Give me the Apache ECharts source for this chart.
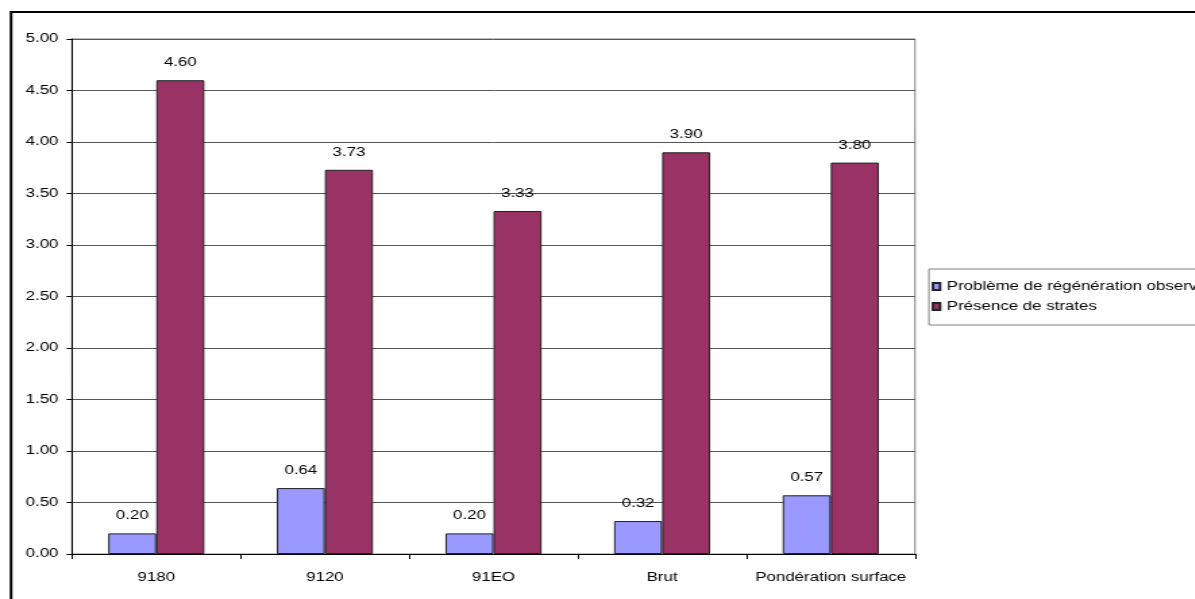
<!DOCTYPE html>
<html>
<head>
<meta charset="utf-8">
<script src="https://cdn.jsdelivr.net/npm/echarts@6/dist/echarts.min.js"></script>
<style>
  html, body { margin: 0; padding: 0; background: #fff; overflow: hidden; }
  #stage { width: 1195px; height: 599px; overflow: hidden; position: relative; background: #fff; }
  /* the chart is laid out narrow and widened horizontally, like a stretched office chart */
  #chart { width: 885px; height: 599px; transform: scaleX(1.35); transform-origin: 0 0; }
</style>
</head>
<body>
<div id="stage"><div id="chart"></div></div>
<script>
// categories along the x axis
const categories = ['9180', '9120', '91EO', 'Brut', 'Pondération surface'];
// series values
const regeneration = [0.20, 0.64, 0.20, 0.32, 0.57];
const strates = [4.60, 3.73, 3.33, 3.90, 3.80];
// value axis ticks
const yMin = 0;
const yMax = 5;
const yStep = 0.5;

const seriesNames = ['Problème de régénération observé', 'Présence de strates'];
const colors = ['#9999FF', '#993366'];
const font = 'Liberation Sans, Arial, sans-serif';

const chart = echarts.init(document.getElementById('chart'), null, { renderer: 'canvas' });

const labelCfg = {
  show: true,
  position: 'top',
  distance: 11,
  color: '#000',
  fontFamily: font,
  fontSize: 12.5,
  formatter: p => p.value.toFixed(2)
};

chart.setOption({
  backgroundColor: '#fff',
  animation: false,
  textStyle: { fontFamily: font },
  graphic: [{
    type: 'rect',
    silent: true,
    z: -10,
    shape: { x: 8.2, y: 12, width: 3000, height: 3000 },
    style: { fill: 'none', stroke: '#000', lineWidth: 2 }
  }],
  grid: {
    left: 53.3,
    right: 207.2,
    top: 39,
    bottom: 45,
    show: true,
    borderColor: '#808080',
    borderWidth: 1,
    backgroundColor: '#fff'
  },
  legend: {
    orient: 'vertical',
    left: 688.1,
    top: 269,
    padding: [11, 12, 12, 2],
    itemGap: 7,
    itemWidth: 5.2,
    itemHeight: 7,
    borderColor: '#808080',
    borderWidth: 1,
    backgroundColor: '#fff',
    textStyle: { color: '#000', fontFamily: font, fontSize: 12.5 },
    data: seriesNames.map(n => ({ name: n, icon: 'rect' }))
  },
  xAxis: {
    type: 'category',
    data: categories,
    axisLine: { lineStyle: { color: '#000', width: 1 } },
    axisTick: { show: true, length: 5, lineStyle: { color: '#000' } },
    axisLabel: { color: '#000', fontFamily: font, fontSize: 12.5, margin: 17, interval: 0 },
    splitLine: { show: false }
  },
  yAxis: {
    type: 'value',
    min: yMin,
    max: yMax,
    interval: yStep,
    axisLine: { show: true, lineStyle: { color: '#000', width: 1 } },
    axisTick: { show: true, length: 4, lineStyle: { color: '#000' } },
    axisLabel: {
      color: '#000', fontFamily: font, fontSize: 12.5, margin: 10,
      formatter: v => v.toFixed(2)
    },
    splitLine: { show: true, lineStyle: { color: '#555', width: 1 } }
  },
  series: [
    {
      name: seriesNames[0],
      type: 'bar',
      data: regeneration,
      barGap: '0%',
      barCategoryGap: '43%',
      itemStyle: { color: colors[0], borderColor: '#222', borderWidth: 1 },
      label: labelCfg
    },
    {
      name: seriesNames[1],
      type: 'bar',
      data: strates,
      barGap: '0%',
      barCategoryGap: '43%',
      itemStyle: { color: colors[1], borderColor: '#222', borderWidth: 1 },
      label: labelCfg
    }
  ]
});
</script>
</body>
</html>
